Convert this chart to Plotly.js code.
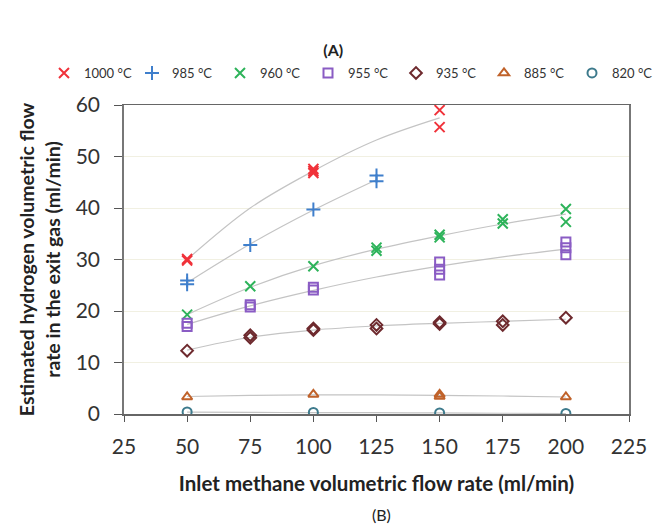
<!DOCTYPE html>
<html>
<head>
<meta charset="utf-8">
<script src="https://cdn.plot.ly/plotly-3.0.1.min.js"></script>
<style>html,body{margin:0;padding:0;background:#fff;}</style>
</head>
<body>
<div id="chart" style="width:660px;height:527px;"></div>
<script>
const x1000 = [50, 50, 100, 100, 100, 150, 150];
const y1000 = [30.1, 29.8, 47.6, 46.8, 47.2, 59.0, 55.7];
const x985 = [50, 50, 75, 100, 125, 125];
const y985 = [25.9, 25.2, 32.8, 39.7, 46.3, 45.2];
const x960 = [50, 75, 100, 125, 125, 150, 150, 175, 175, 200, 200];
const y960 = [19.3, 24.8, 28.7, 32.3, 31.7, 34.8, 34.3, 37.8, 37.0, 39.8, 37.3];
const x955 = [50, 50, 75, 75, 100, 100, 150, 150, 150, 200, 200, 200];
const y955 = [17.6, 17.0, 21.2, 20.8, 24.6, 24.1, 29.5, 28.1, 27.0, 33.4, 32.3, 30.9];
const x935 = [50, 75, 75, 100, 100, 125, 125, 150, 150, 175, 175, 200];
const y935 = [12.3, 15.3, 14.8, 16.6, 16.3, 17.3, 16.6, 17.8, 17.5, 18.0, 17.3, 18.7];
const x885 = [50, 100, 150, 150, 200];
const y885 = [3.3, 3.8, 3.8, 3.4, 3.3];
const x820 = [50, 100, 150, 200];
const y820 = [0.4, 0.3, 0.2, 0.1];

// Trend lines
const tx1000 = [50, 75, 100, 125, 150];
const ty1000 = [30.0, 40.0, 47.2, 53.2, 57.5];
const tx985 = [50, 75, 100, 125];
const ty985 = [25.5, 33.0, 39.6, 45.5];
const txLong = [50, 75, 100, 125, 150, 175, 200];
const ty960 = [19.3, 24.6, 28.8, 32.0, 34.6, 36.9, 38.8];
const ty955 = [17.4, 21.0, 24.0, 26.6, 28.7, 30.5, 32.0];
const ty935 = [12.4, 14.9, 16.3, 17.1, 17.6, 18.0, 18.4];
const ty885 = [3.4, 3.6, 3.7, 3.7, 3.6, 3.5, 3.3];
const ty820 = [0.35, 0.3, 0.28, 0.25, 0.2, 0.15, 0.1];

const names = ['1000 °C', '985 °C', '960 °C', '955 °C', '935 °C', '885 °C', '820 °C'];
const colors = ['#f0323a', '#3f7fcc', '#2db35a', '#8a5cc4', '#6e2a2e', '#c0622a', '#3d7a8c'];
const symbols = ['x-thin-open', 'cross-thin-open', 'x-thin-open', 'square-open', 'diamond-open', 'triangle-up-open', 'circle-open'];
const xs = [x1000, x985, x960, x955, x935, x885, x820];
const ys = [y1000, y985, y960, y955, y935, y885, y820];
const txs = [tx1000, tx985, txLong, txLong, txLong, txLong, txLong];
const tys = [ty1000, ty985, ty960, ty955, ty935, ty885, ty820];

const traces = [];
for (let i = 0; i < names.length; i++) {
  traces.push({
    x: txs[i], y: tys[i], mode: 'lines', type: 'scatter',
    line: {color: '#c4c4c4', width: 1.2, shape: 'spline'},
    showlegend: false, hoverinfo: 'skip'
  });
}
for (let i = 0; i < names.length; i++) {
  traces.push({
    x: xs[i], y: ys[i], mode: 'markers', type: 'scatter', name: names[i],
    marker: {symbol: symbols[i], color: colors[i], size: (i < 3 ? 10 : 9),
             line: {color: colors[i], width: 2}}
  });
}

const layout = {
  width: 660, height: 527,
  margin: {l: 124, r: 31, t: 105, b: 113},
  paper_bgcolor: '#fff', plot_bgcolor: '#fff',
  font: {family: 'Lato, "Open Sans", sans-serif', color: '#404040'},
  title: {text: '<b>(A)</b>', x: 0.505, xanchor: 'center', y: 0.905, yanchor: 'middle',
          font: {size: 16, color: '#222'}},
  showlegend: true,
  legend: {orientation: 'h', x: -0.1505, xanchor: 'left', y: 1.1036, yanchor: 'middle',
           font: {size: 13, color: '#333'}, itemwidth: 30, entrywidth: 43, entrywidthmode: 'pixels',
           bgcolor: 'rgba(0,0,0,0)'},
  xaxis: {
    range: [25, 225], dtick: 25, tick0: 25,
    showgrid: false, zeroline: false,
    showline: true, linecolor: '#666', linewidth: 1.5, mirror: true,
    ticks: 'outside', ticklen: 6, tickcolor: '#555', tickwidth: 1,
    ticklabelstandoff: 7,
    tickfont: {size: 21, color: '#333'},
    title: {text: '<b>Inlet methane volumetric flow rate (ml/min)</b>', font: {size: 20.5, color: '#222'}, standoff: 20}
  },
  yaxis: {
    range: [0, 60], dtick: 10,
    showgrid: true, gridcolor: '#f1f0e2', gridwidth: 1, zeroline: false,
    showline: true, linecolor: '#777', linewidth: 1.8, mirror: true,
    ticks: 'outside', ticklen: 8, tickcolor: '#555', tickwidth: 1,
    ticklabelstandoff: 10,
    tickfont: {size: 21, color: '#333'},
    title: {text: '<b>Estimated hydrogen volumetric flow<br>rate in the exit gas (ml/min)</b>', font: {size: 19.5, color: '#222'}, standoff: 10}
  },
  annotations: [
    {text: '(B)', xref: 'paper', yref: 'paper', x: 0.51, y: -0.325, xanchor: 'center', yanchor: 'middle',
     showarrow: false, font: {size: 16, color: '#222'}}
  ]
};

Plotly.newPlot('chart', traces, layout, {displayModeBar: false, staticPlot: true});
</script>
</body>
</html>
